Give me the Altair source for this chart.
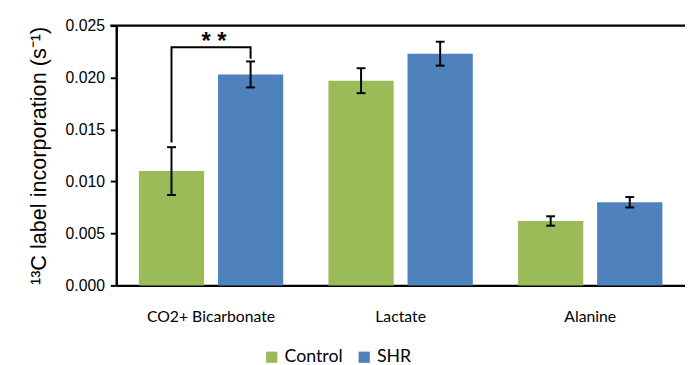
import altair as alt
import pandas as pd

categories = ["CO2+ Bicarbonate", "Lactate", "Alanine"]
series = ["Control", "SHR"]
control_vals = [0.0110, 0.0197, 0.0062]
control_err = [0.0023, 0.0012, 0.00045]
shr_vals = [0.0203, 0.0223, 0.0080]
shr_err = [0.00125, 0.00115, 0.0005]
y_ticks = [0.0, 0.005, 0.010, 0.015, 0.020, 0.025]

# significance bracket (Control -> SHR on first category)
bracket_series = ["Control", "Control", "SHR", "SHR"]
bracket_y = [0.01376, 0.02292, 0.02292, 0.02181]
star_label = "* *"

rows = []
for i, c in enumerate(categories):
    rows.append(dict(cat=c, series="Control", value=control_vals[i],
                     lo=control_vals[i] - control_err[i], hi=control_vals[i] + control_err[i]))
    rows.append(dict(cat=c, series="SHR", value=shr_vals[i],
                     lo=shr_vals[i] - shr_err[i], hi=shr_vals[i] + shr_err[i]))
df = pd.DataFrame(rows)

bdf = pd.DataFrame(dict(cat=[categories[0]] * 4, series=bracket_series,
                        y=bracket_y, o=[0, 1, 2, 3]))
sdf = pd.DataFrame(dict(cat=[categories[0]], y=[bracket_y[1]], t=[star_label]))

W, H = 578, 264
xscale = alt.Scale(domain=categories, paddingInner=0, paddingOuter=0)
offscale = alt.Scale(domain=series, paddingInner=0.175, paddingOuter=0.286)
yscale = alt.Scale(domain=[0, 0.025], nice=False)
colors = alt.Scale(domain=series, range=["#9BBB59", "#4F81BD"])

x_enc = alt.X("cat:N", scale=xscale, sort=categories, title=None,
              axis=alt.Axis(labelAngle=0, ticks=False, domainColor="#000000",
                            domainWidth=2.5, labelFont="Lato", labelFontSize=16,
                            labelColor="#000000", labelPadding=24))
xo = alt.XOffset("series:N", scale=offscale, sort=series)

bars = alt.Chart(df).mark_bar().encode(
    x=x_enc,
    xOffset=xo,
    y=alt.Y("value:Q", scale=yscale,
            title="¹³C label incorporation (s⁻¹)",
            axis=alt.Axis(values=y_ticks, format=".3f", grid=False,
                          domainColor="#000000", domainWidth=2.5,
                          tickColor="#000000", tickWidth=2, tickSize=6,
                          labelFont="Liberation Sans", labelFontSize=16,
                          labelColor="#000000", labelPadding=6,
                          titleFont="Liberation Sans", titleFontSize=22,
                          titleFontWeight="normal", titleColor="#000000",
                          titlePadding=15)),
    color=alt.Color("series:N", scale=colors, title=None,
                    legend=alt.Legend(orient="none", direction="horizontal",
                                      legendX=149, legendY=328,
                                      symbolType="square", symbolSize=130,
                                      symbolStrokeWidth=0, symbolOpacity=1,
                                      labelFont="Lato", labelFontSize=18,
                                      labelColor="#000000", columnPadding=12,
                                      labelOffset=4)),
)

err_rule = alt.Chart(df).mark_rule(color="#000000", strokeWidth=2).encode(
    x=alt.X("cat:N", scale=xscale, sort=categories),
    xOffset=xo,
    y=alt.Y("lo:Q", scale=yscale),
    y2="hi:Q",
)
cap_lo = alt.Chart(df).mark_tick(color="#000000", thickness=2, size=9, opacity=1).encode(
    x=alt.X("cat:N", scale=xscale, sort=categories),
    xOffset=xo,
    y=alt.Y("lo:Q", scale=yscale),
)
cap_hi = alt.Chart(df).mark_tick(color="#000000", thickness=2, size=9, opacity=1).encode(
    x=alt.X("cat:N", scale=xscale, sort=categories),
    xOffset=xo,
    y=alt.Y("hi:Q", scale=yscale),
)

bracket = alt.Chart(bdf).mark_line(color="#000000", strokeWidth=2).encode(
    x=alt.X("cat:N", scale=xscale, sort=categories),
    xOffset=alt.XOffset("series:N", scale=offscale, sort=series),
    y=alt.Y("y:Q", scale=yscale),
    order="o:Q",
)
stars = alt.Chart(sdf).mark_text(fontSize=24, fontWeight="bold", font="Liberation Sans",
                                 color="#000000", baseline="alphabetic", dy=2, dx=3).encode(
    x=alt.X("cat:N", scale=xscale, sort=categories),
    y=alt.Y("y:Q", scale=yscale),
    text="t:N",
)

top_line = alt.Chart(pd.DataFrame(dict(y=[0.025]))).mark_rule(color="#000000", strokeWidth=2.5).encode(
    y=alt.Y("y:Q", scale=yscale),
    x=alt.value(-6),
    x2=alt.value(W),
)

chart = alt.layer(bars, err_rule, cap_lo, cap_hi, bracket, stars, top_line).properties(
    width=W, height=H,
    autosize=alt.AutoSizeParams(type="none"),
    padding={"left": 110, "top": 15, "right": 0, "bottom": 78},
).configure_view(stroke=None)

chart.save("out.html", embed_options={"renderer": "svg", "actions": False})
